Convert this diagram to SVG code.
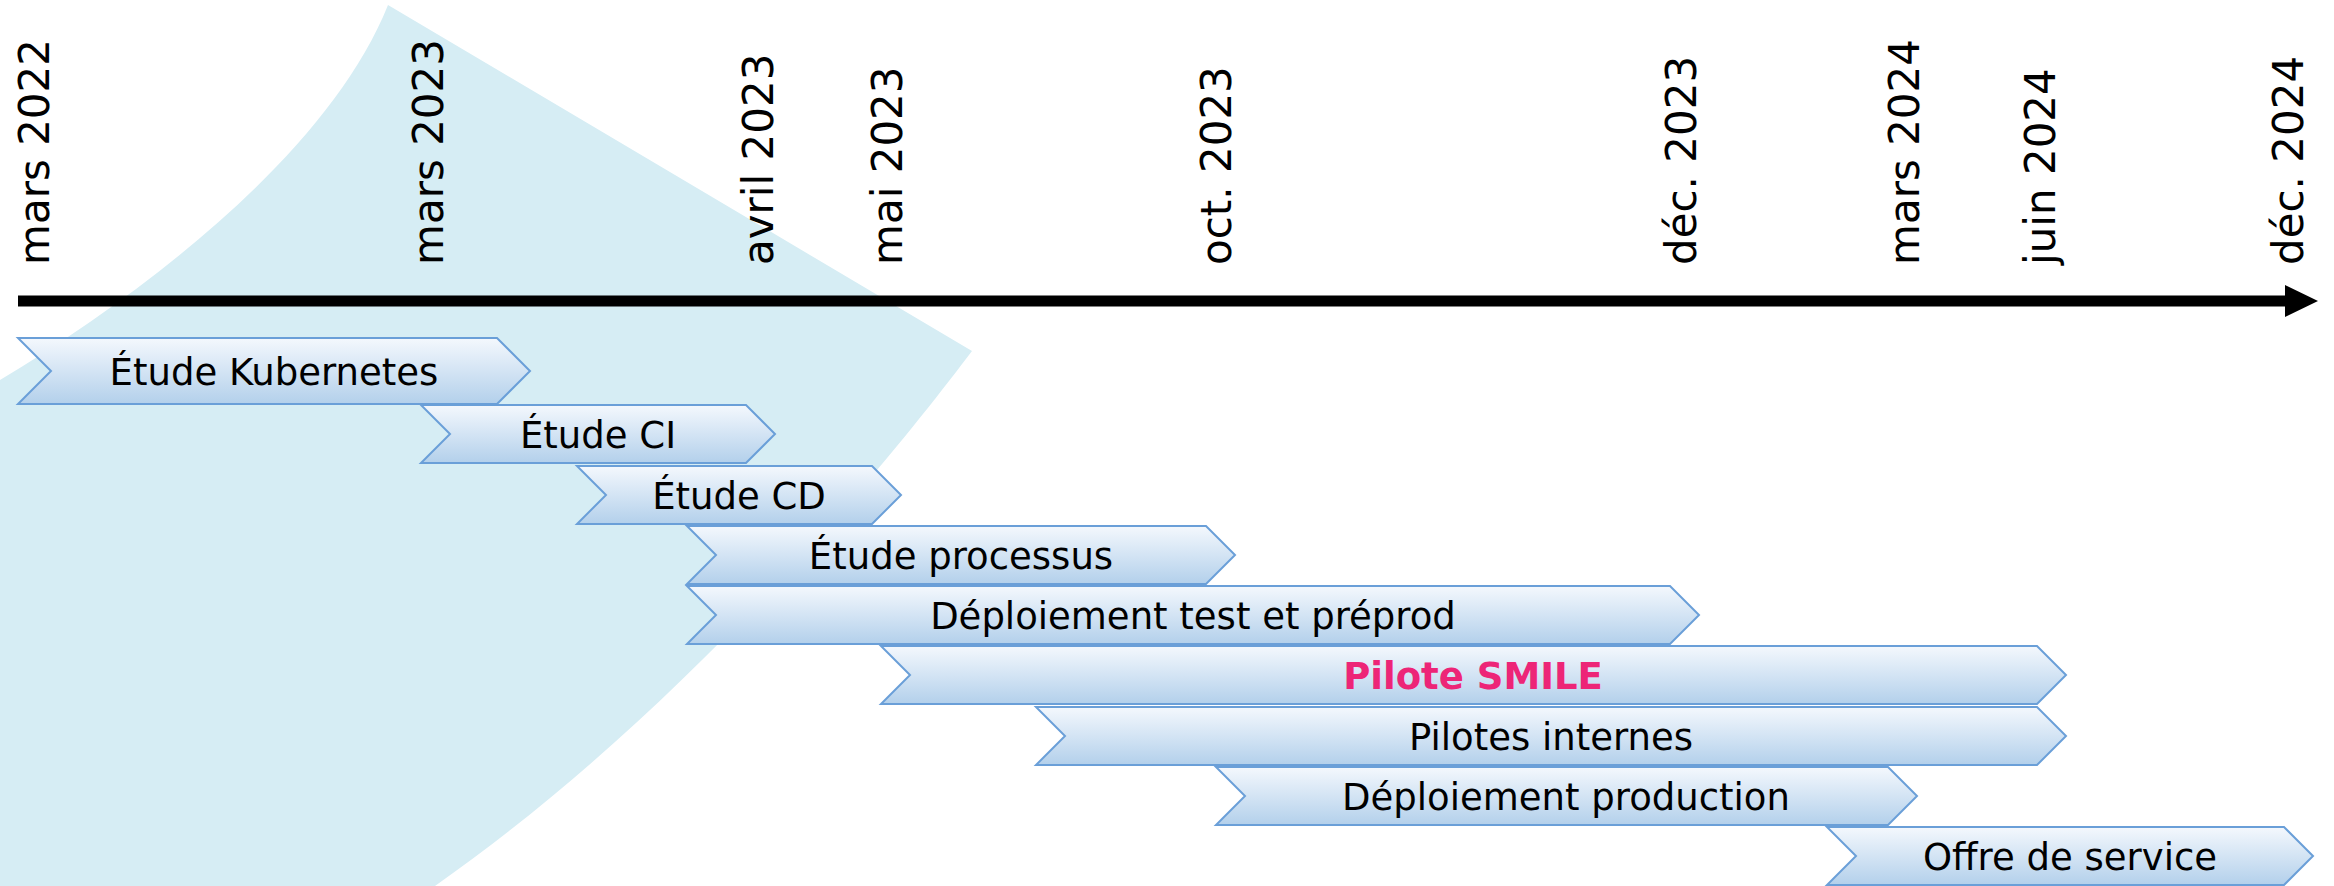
<svg xmlns="http://www.w3.org/2000/svg" width="2334" height="886" viewBox="0 0 2334 886">
<defs>
<linearGradient id="chevGrad" x1="0" y1="0" x2="0" y2="1">
<stop offset="0" stop-color="#f4f8fd"/>
<stop offset="1" stop-color="#b3d0eb"/>
</linearGradient>
<style>
.date{font-family:"DejaVu Sans",sans-serif;font-size:42px;fill:#000}
.chev{fill:url(#chevGrad);stroke:#6a9fd8;stroke-width:2}
.lbl{font-family:"DejaVu Sans",sans-serif;font-size:37px;fill:#000;text-anchor:middle}
.lbl-b{font-family:"DejaVu Sans",sans-serif;font-size:37px;font-weight:bold;fill:#ed2577;text-anchor:middle}
</style>
</defs>
<rect width="2334" height="886" fill="#ffffff"/>
<path id="background" d="M0,380 C150,290 330,150 388,5 L972,351 C905,440 700,700 435,886 L0,886 Z" fill="#d6edf4"/>
<g id="axis">
<line x1="18" y1="301" x2="2288" y2="301" stroke="#000" stroke-width="11"/>
<polygon points="2285,285 2318,301 2285,317" fill="#000"/>
</g>
<g id="dates">
<text class="date" transform="translate(49,265) rotate(-90)">mars 2022</text>
<text class="date" transform="translate(443,265) rotate(-90)">mars 2023</text>
<text class="date" transform="translate(773,265) rotate(-90)">avril 2023</text>
<text class="date" transform="translate(902,265) rotate(-90)">mai 2023</text>
<text class="date" transform="translate(1231,265) rotate(-90)">oct. 2023</text>
<text class="date" transform="translate(1696,265) rotate(-90)">déc. 2023</text>
<text class="date" transform="translate(1919,265) rotate(-90)">mars 2024</text>
<text class="date" transform="translate(2055,265) rotate(-90)">juin 2024</text>
<text class="date" transform="translate(2303,265) rotate(-90)">déc. 2024</text>
</g>
<g id="connectors"></g>
<g id="n1">
<polygon class="chev" points="18,338 497,338 530,371 497,404 18,404 51,371"/>
<text class="lbl" x="274" y="385">Étude Kubernetes</text>
</g>
<g id="n2">
<polygon class="chev" points="421,405 746,405 775,434 746,463 421,463 450,434"/>
<text class="lbl" x="598" y="448">Étude CI</text>
</g>
<g id="n3">
<polygon class="chev" points="577,466 872,466 901,495 872,524 577,524 606,495"/>
<text class="lbl" x="739" y="509">Étude CD</text>
</g>
<g id="n4">
<polygon class="chev" points="687,526 1206,526 1235,555 1206,584 687,584 716,555"/>
<text class="lbl" x="961" y="569">Étude processus</text>
</g>
<g id="n5">
<polygon class="chev" points="687,586 1670,586 1699,615 1670,644 687,644 716,615"/>
<text class="lbl" x="1193" y="629">Déploiement test et préprod</text>
</g>
<g id="n6">
<polygon class="chev" points="881,646 2037,646 2066,675 2037,704 881,704 910,675"/>
<text class="lbl-b" x="1473" y="689">Pilote SMILE</text>
</g>
<g id="n7">
<polygon class="chev" points="1036,707 2037,707 2066,736 2037,765 1036,765 1065,736"/>
<text class="lbl" x="1551" y="750">Pilotes internes</text>
</g>
<g id="n8">
<polygon class="chev" points="1216,767 1888,767 1917,796 1888,825 1216,825 1245,796"/>
<text class="lbl" x="1566" y="810">Déploiement production</text>
</g>
<g id="n9">
<polygon class="chev" points="1827,827 2284,827 2313,856 2284,885 1827,885 1856,856"/>
<text class="lbl" x="2070" y="870">Offre de service</text>
</g>
</svg>
